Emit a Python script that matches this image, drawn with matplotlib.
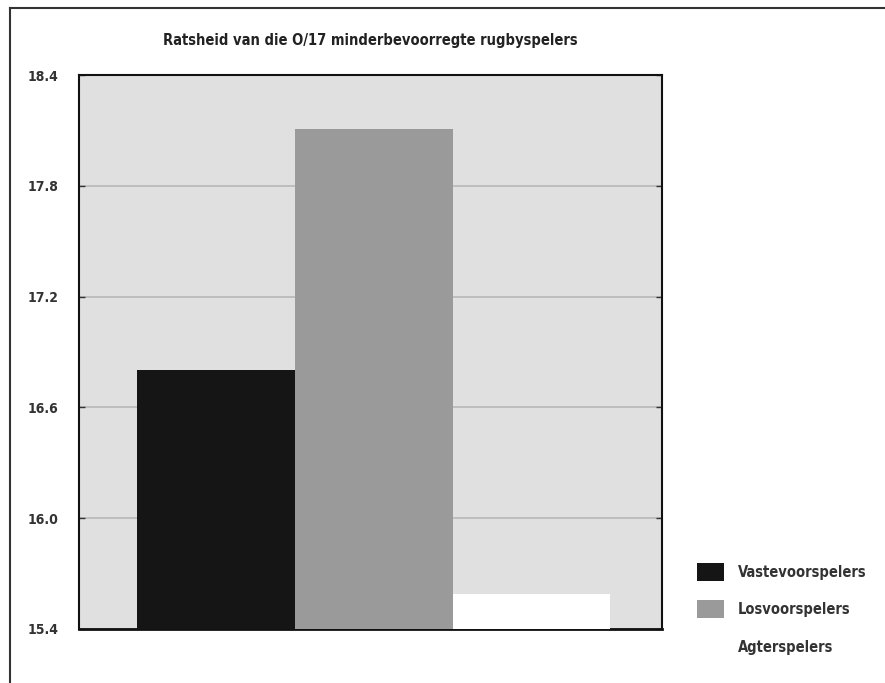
import numpy as np
import matplotlib.pyplot as plt
from matplotlib.lines import Line2D

# Ratsheid (agility) scores per player group
groups = ['Vastevoorspelers', 'Losvoorspelers', 'Agterspelers']
values = [16.80, 18.11, 15.59]
colours = ['#151515', '#9a9a9a', '#ffffff']
yticks = [15.4, 16.0, 16.6, 17.2, 17.8, 18.4]

plt.rcParams['font.family'] = ['DejaVu Sans']
plt.rcParams['font.stretch'] = 'condensed'
plt.rcParams['font.weight'] = 'bold'

fig = plt.figure(figsize=(8.85, 6.83), dpi=100)
ax = fig.add_axes([0.0893, 0.0791, 0.659, 0.811])
ax.set_facecolor('#e0e0e0')

x = np.arange(len(groups))
bars = ax.bar(x, np.array(values) - yticks[0], bottom=yticks[0], width=1.0,
              color=colours, edgecolor='none', zorder=3)

ax.set_ylim(yticks[0], yticks[-1])
ax.set_xlim(-0.87, 2.83)
ax.set_yticks(yticks)
ax.set_yticklabels([f'{t:.1f}' for t in yticks], fontsize=10, color='#333333')
ax.set_xticks([])
ax.tick_params(axis='y', direction='in', length=4, width=1, pad=15,
               left=True, right=True, colors='#333333', labelcolor='#333333')
ax.grid(axis='y', color='#b8b8b8', linewidth=1.2, zorder=1)
for side in ax.spines.values():
    side.set_color('#111111')
    side.set_linewidth(1.5)
ax.spines['bottom'].set_linewidth(2)

ax.set_title('Ratsheid van die O/17 minderbevoorregte rugbyspelers',
             fontsize=10.5, fontweight='bold', color='#222222', pad=22)

fig.legend(bars, groups, loc='upper left', bbox_to_anchor=(0.773, 0.195),
           frameon=False, fontsize=10.5, handlelength=1.85, handleheight=1.5,
           labelspacing=1.35, handletextpad=0.95, labelcolor='#333333')

# outer frame (top and left edges)
fig.add_artist(Line2D([10 / 885, 1.0], [1 - 8 / 683, 1 - 8 / 683],
                      transform=fig.transFigure, color='#333333', linewidth=1.5))
fig.add_artist(Line2D([10 / 885, 10 / 885], [0.0, 1 - 8 / 683],
                      transform=fig.transFigure, color='#333333', linewidth=1.5))

fig.savefig('out.png', dpi=100, facecolor='white')
